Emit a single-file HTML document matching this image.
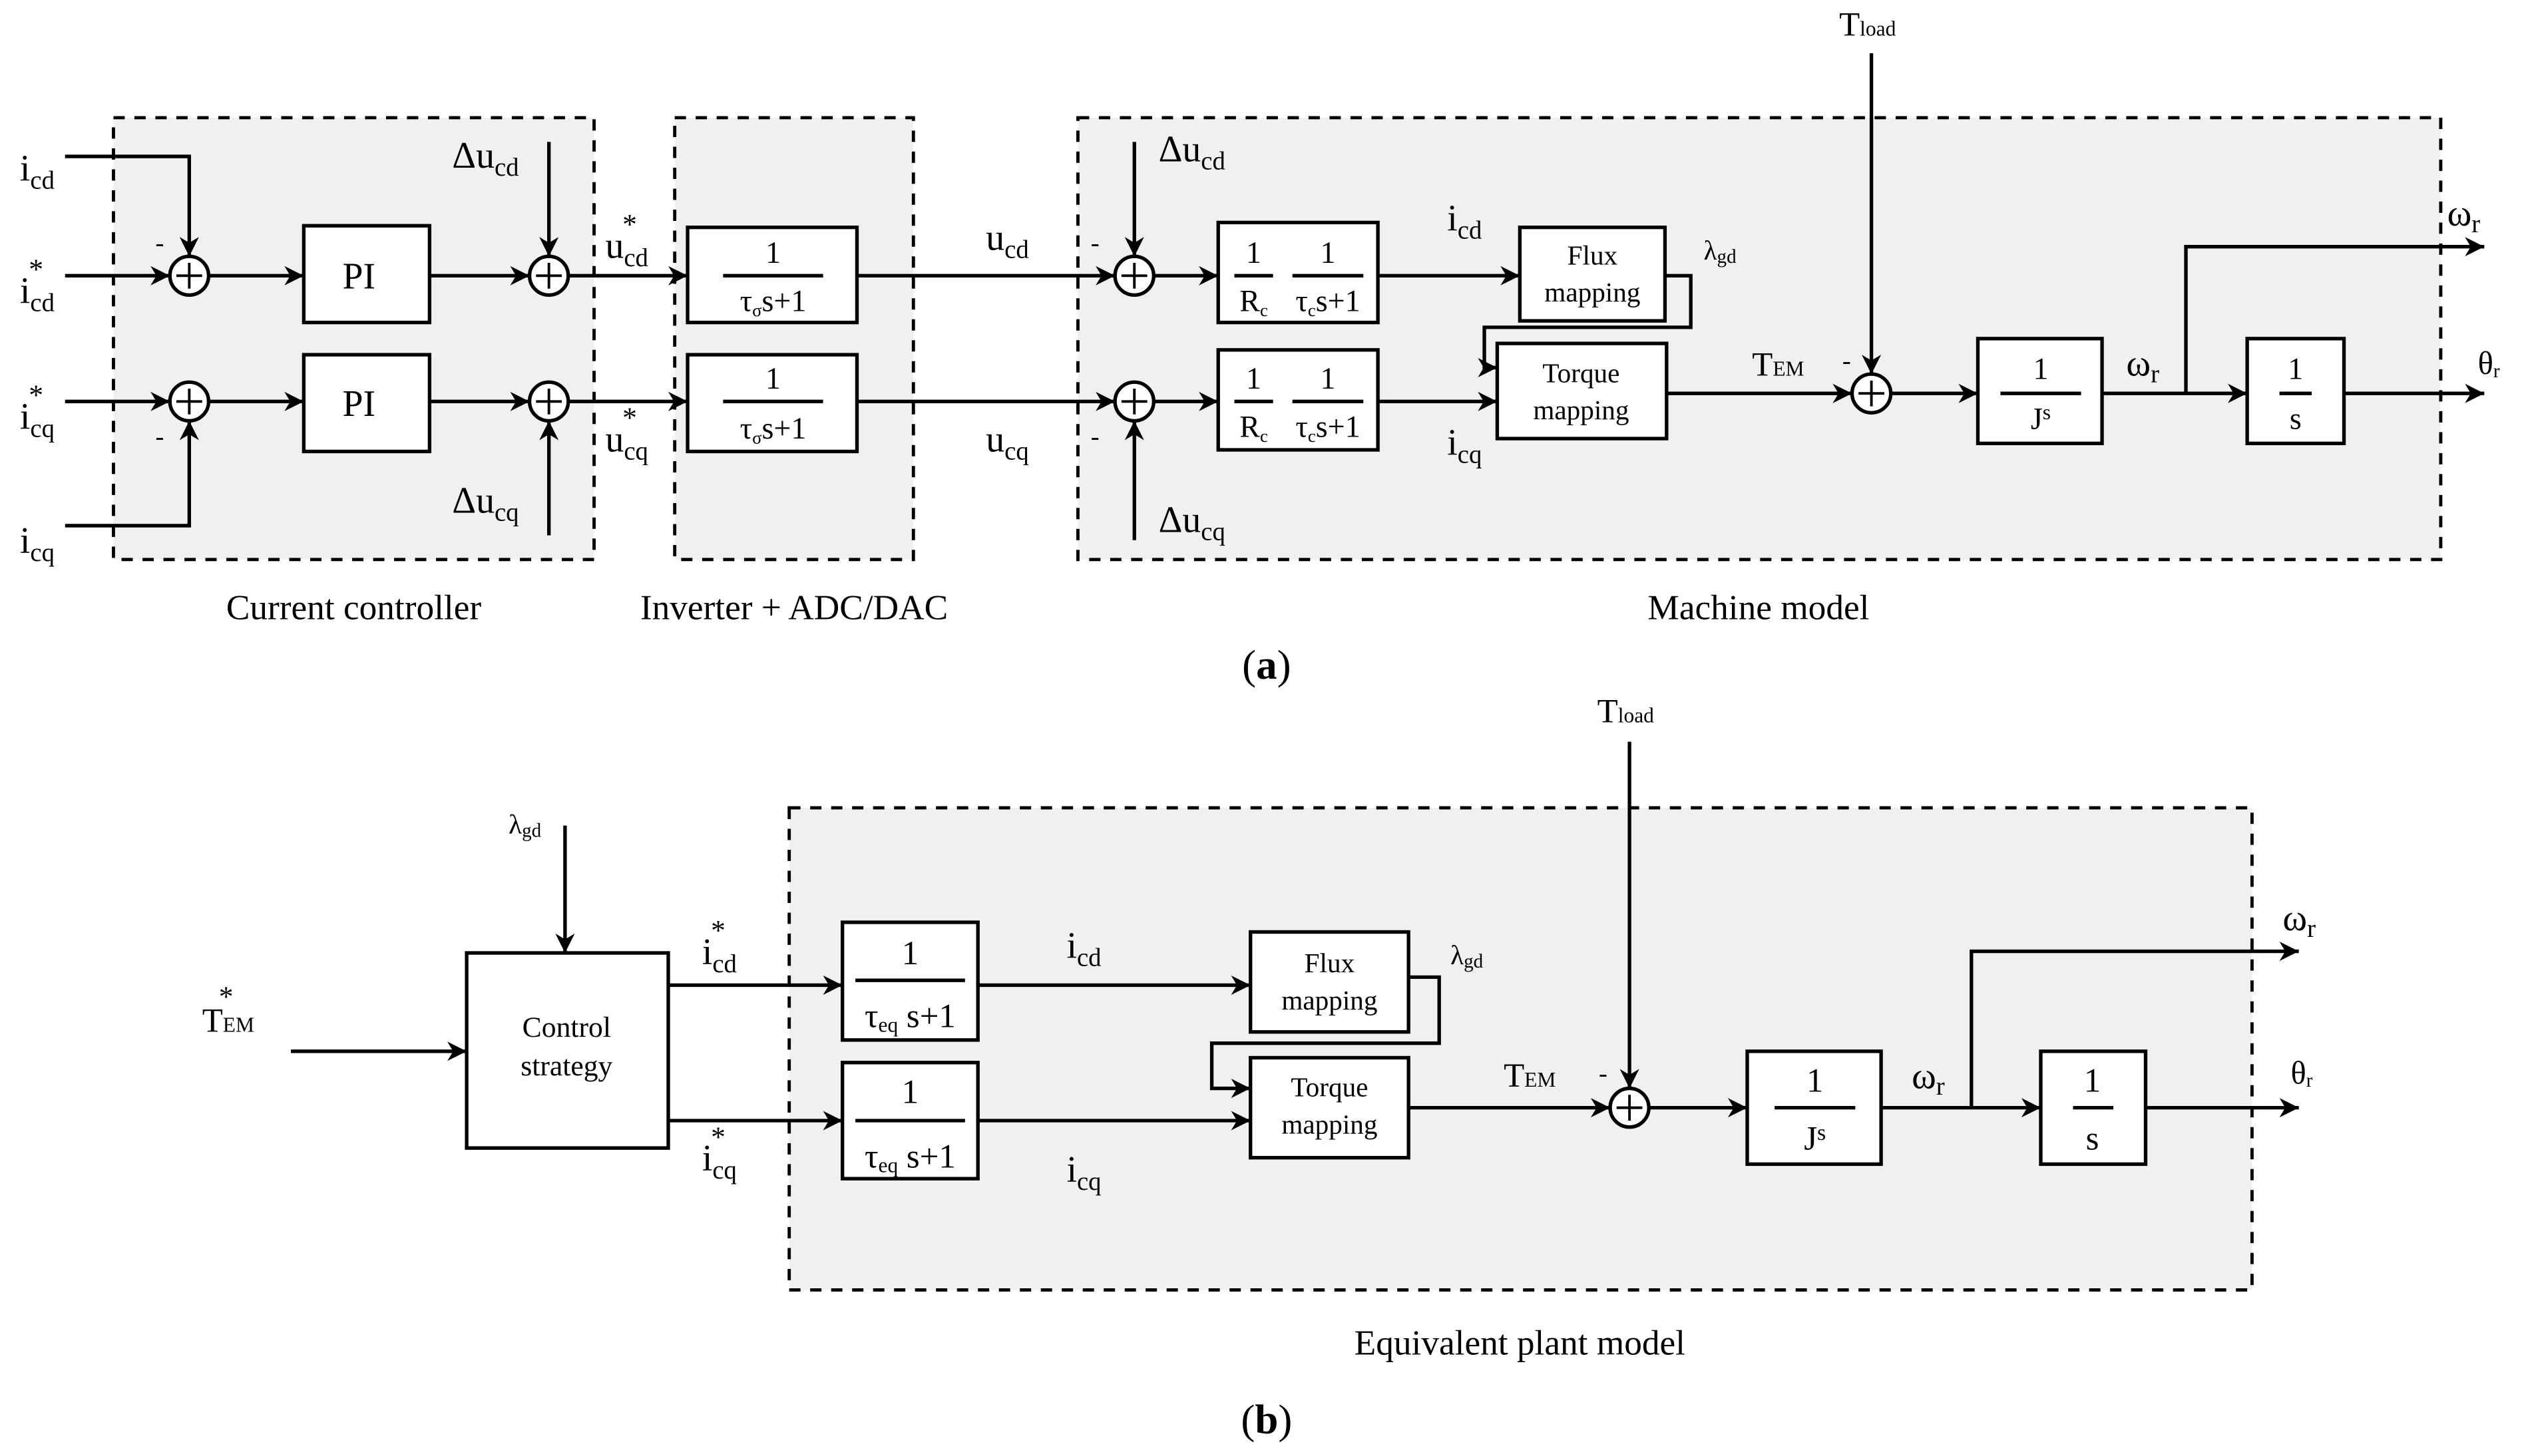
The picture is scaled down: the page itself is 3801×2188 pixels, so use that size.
<!DOCTYPE html>
<html><head><meta charset="utf-8"><style>
html,body{margin:0;padding:0;background:#fff}
svg{display:block}
svg, svg text, svg tspan{font-family:"Liberation Serif","DejaVu Serif",serif !important}
text{fill:#000}
</style></head><body>
<svg width="3801" height="2188" viewBox="0 0 1568 903" xmlns="http://www.w3.org/2000/svg" font-family="Liberation Serif, DejaVu Serif, serif">
<defs>
<marker id="A" viewBox="0 0 10 10" refX="10" refY="5" markerWidth="12" markerHeight="12" orient="auto" markerUnits="userSpaceOnUse">
<path d="M0,0 L10,5 L0,10 L3,5 z" fill="#000"/></marker>
</defs>
<g fill="#f0f0f0" stroke="#000" stroke-width="2" stroke-dasharray="7,6">
<rect x="70" y="73" width="298" height="274"/>
<rect x="418" y="73" width="148" height="274"/>
<rect x="668" y="73" width="845" height="274"/>
<rect x="489" y="501" width="907" height="299"/>
</g>
<g fill="none" stroke="#000" stroke-width="2.2">
<path d="M40,97 H117 V159" marker-end="url(#A)"/>
<path d="M40,326 H117 V261" marker-end="url(#A)"/>
<path d="M40,171 H105" marker-end="url(#A)"/>
<path d="M40,249 H105" marker-end="url(#A)"/>
<path d="M129,171 H188" marker-end="url(#A)"/>
<path d="M129,249 H188" marker-end="url(#A)"/>
<path d="M266,171 H328" marker-end="url(#A)"/>
<path d="M266,249 H328" marker-end="url(#A)"/>
<path d="M340,88 V159" marker-end="url(#A)"/>
<path d="M340,332 V261" marker-end="url(#A)"/>
<path d="M352,171 H426" marker-end="url(#A)"/>
<path d="M352,249 H426" marker-end="url(#A)"/>
<path d="M531,171 H691" marker-end="url(#A)"/>
<path d="M531,249 H691" marker-end="url(#A)"/>
<path d="M703,88 V159" marker-end="url(#A)"/>
<path d="M703,335 V261" marker-end="url(#A)"/>
<path d="M715,171 H755" marker-end="url(#A)"/>
<path d="M715,249 H755" marker-end="url(#A)"/>
<path d="M854,171 H942" marker-end="url(#A)"/>
<path d="M854,249 H928" marker-end="url(#A)"/>
<path d="M1032,171 H1048 V203 H920 V228 H928" marker-end="url(#A)"/>
<path d="M1033,244 H1148" marker-end="url(#A)"/>
<path d="M1160,33 V232" marker-end="url(#A)"/>
<path d="M1172,244 H1226" marker-end="url(#A)"/>
<path d="M1303,244 H1393" marker-end="url(#A)"/>
<path d="M1355,244 V153 H1540" marker-end="url(#A)"/>
<path d="M1453,244 H1540" marker-end="url(#A)"/>
<circle cx="117" cy="171" r="12" fill="#fff"/><circle cx="117" cy="249" r="12" fill="#fff"/>
<circle cx="340" cy="171" r="12" fill="#fff"/><circle cx="340" cy="249" r="12" fill="#fff"/>
<circle cx="703" cy="171" r="12" fill="#fff"/><circle cx="703" cy="249" r="12" fill="#fff"/>
<circle cx="1160" cy="244" r="12" fill="#fff"/>
<path stroke-width="1.6" d="M109,171h16M117,163v16M109,249h16M117,241v16M332,171h16M340,163v16M332,249h16M340,241v16M695,171h16M703,163v16M695,249h16M703,241v16M1152,244h16M1160,236v16"/>
<g fill="#fff">
<rect x="188" y="140" width="78" height="60"/><rect x="188" y="220" width="78" height="60"/>
<rect x="426" y="141" width="105" height="59"/><rect x="426" y="220" width="105" height="60"/>
<rect x="755" y="138" width="99" height="62"/><rect x="755" y="217" width="99" height="62"/>
<rect x="942" y="141" width="90" height="58"/><rect x="928" y="213" width="105" height="59"/>
<rect x="1226" y="210" width="77" height="65"/><rect x="1393" y="210" width="60" height="65"/>
</g>
<path d="M448,171h62M448,249h62M765,171h24M801,171h44M765,249h24M801,249h44M1240,244h50M1413,244h20"/>
<path d="M180,652 H289" marker-end="url(#A)"/>
<path d="M350,512 V591" marker-end="url(#A)"/>
<path d="M414,611 H522" marker-end="url(#A)"/>
<path d="M414,695 H522" marker-end="url(#A)"/>
<path d="M606,611 H775" marker-end="url(#A)"/>
<path d="M606,695 H775" marker-end="url(#A)"/>
<path d="M873,606 H892 V647 H751 V675 H775" marker-end="url(#A)"/>
<path d="M873,687 H998" marker-end="url(#A)"/>
<path d="M1010,460 V675" marker-end="url(#A)"/>
<path d="M1022,687 H1083" marker-end="url(#A)"/>
<path d="M1166,687 H1265" marker-end="url(#A)"/>
<path d="M1222,687 V590 H1425" marker-end="url(#A)"/>
<path d="M1330,687 H1425" marker-end="url(#A)"/>
<circle cx="1010" cy="687" r="12" fill="#fff"/>
<path stroke-width="1.6" d="M1002,687h16M1010,679v16"/>
<g fill="#fff">
<rect x="289" y="591" width="125" height="121"/>
<rect x="522" y="572" width="84" height="73"/><rect x="522" y="659" width="84" height="72"/>
<rect x="775" y="578" width="98" height="62"/><rect x="775" y="656" width="98" height="62"/>
<rect x="1083" y="652" width="83" height="70"/><rect x="1265" y="652" width="65" height="70"/>
</g>
<path d="M530,608h68M530,695h68M1100,687h50M1285,687h25"/>
</g>
<g font-size="23">
<text x="12" y="112">i<tspan font-size="16" dy="5">cd</tspan></text>
<text x="12" y="188">i<tspan font-size="16" dy="5">cd</tspan><tspan dx="-16" dy="-20" font-size="18">*</tspan></text>
<text x="12" y="266">i<tspan font-size="16" dy="5">cq</tspan><tspan dx="-16" dy="-20" font-size="18">*</tspan></text>
<text x="12" y="343">i<tspan font-size="16" dy="5">cq</tspan></text>
<text x="96" y="156" font-size="16">-</text><text x="96" y="276" font-size="16">-</text>
<text x="212" y="179">PI</text><text x="212" y="258">PI</text>
<text x="280" y="104">Δu<tspan font-size="16" dy="5">cd</tspan></text>
<text x="280" y="318">Δu<tspan font-size="16" dy="5">cq</tspan></text>
<text x="375" y="160">u<tspan font-size="16" dy="5">cd</tspan><tspan dx="-16" dy="-20" font-size="18">*</tspan></text>
<text x="375" y="280">u<tspan font-size="16" dy="5">cq</tspan><tspan dx="-16" dy="-20" font-size="18">*</tspan></text>
<g font-size="19" text-anchor="middle">
<text x="479" y="163">1</text><text x="479" y="193">τ<tspan font-size="11" dy="3">σ</tspan><tspan dy="-3">s+1</tspan></text>
<text x="479" y="241">1</text><text x="479" y="272">τ<tspan font-size="11" dy="3">σ</tspan><tspan dy="-3">s+1</tspan></text>
<text x="777" y="163">1</text><text x="777" y="193">R<tspan font-size="11" dy="3">c</tspan></text>
<text x="823" y="163">1</text><text x="823" y="193">τ<tspan font-size="11" dy="3">c</tspan><tspan dy="-3">s+1</tspan></text>
<text x="777" y="241">1</text><text x="777" y="271">R<tspan font-size="11" dy="3">c</tspan></text>
<text x="823" y="241">1</text><text x="823" y="271">τ<tspan font-size="11" dy="3">c</tspan><tspan dy="-3">s+1</tspan></text>
<text x="1265" y="235">1</text><text x="1265" y="266">J<tspan font-size="13" dy="-6">s</tspan></text>
<text x="1423" y="235">1</text><text x="1423" y="266">s</text>
<text x="987" y="164" font-size="17">Flux</text><text x="987" y="187" font-size="17">mapping</text>
<text x="980" y="237" font-size="17">Torque</text><text x="980" y="260" font-size="17">mapping</text>
</g>
<text x="611" y="155">u<tspan font-size="16" dy="5">cd</tspan></text>
<text x="611" y="280">u<tspan font-size="16" dy="5">cq</tspan></text>
<text x="676" y="156" font-size="16">-</text><text x="676" y="276" font-size="16">-</text>
<text x="718" y="100">Δu<tspan font-size="16" dy="5">cd</tspan></text>
<text x="718" y="330">Δu<tspan font-size="16" dy="5">cq</tspan></text>
<text x="897" y="143">i<tspan font-size="16" dy="5">cd</tspan></text>
<text x="897" y="282">i<tspan font-size="16" dy="5">cq</tspan></text>
<text x="1056" y="161" font-size="17">λ<tspan font-size="12" dy="2">gd</tspan></text>
<text x="1086" y="233" font-size="21">T<tspan font-size="13">EM</tspan></text>
<text x="1140" y="22" font-size="21">T<tspan font-size="13">load</tspan></text>
<text x="1142" y="229" font-size="16">-</text>
<text x="1318" y="233">ω<tspan font-size="16" dy="4">r</tspan></text>
<text x="1517" y="140">ω<tspan font-size="16" dy="4">r</tspan></text>
<text x="1536" y="232" font-size="20">θ<tspan font-size="12" dy="2">r</tspan></text>
<g text-anchor="middle" font-size="22">
<text x="219" y="384">Current controller</text>
<text x="492" y="384">Inverter + ADC/DAC</text>
<text x="1090" y="384">Machine model</text>
<text x="785" y="421" font-size="26">(<tspan font-weight="bold">a</tspan>)</text>
<text x="942" y="840">Equivalent plant model</text>
<text x="785" y="889" font-size="26">(<tspan font-weight="bold">b</tspan>)</text>
</g>
<text x="125" y="640" font-size="21">T<tspan font-size="13">EM</tspan><tspan dx="-22" dy="-16" font-size="18">*</tspan></text>
<text x="315" y="517" font-size="17">λ<tspan font-size="12" dy="2">gd</tspan></text>
<g text-anchor="middle" font-size="18">
<text x="351" y="643">Control</text><text x="351" y="667">strategy</text>
<text x="824" y="603" font-size="17">Flux</text><text x="824" y="626" font-size="17">mapping</text>
<text x="824" y="680" font-size="17">Torque</text><text x="824" y="703" font-size="17">mapping</text>
</g>
<g text-anchor="middle" font-size="21">
<text x="564" y="598">1</text><text x="564" y="637">τ<tspan font-size="13" dy="3">eq</tspan><tspan dy="-3"> s+1</tspan></text>
<text x="564" y="684">1</text><text x="564" y="724">τ<tspan font-size="13" dy="3">eq</tspan><tspan dy="-3"> s+1</tspan></text>
<text x="1125" y="677">1</text><text x="1125" y="713">J<tspan font-size="14" dy="-6">s</tspan></text>
<text x="1297" y="677">1</text><text x="1297" y="713">s</text>
</g>
<text x="435" y="598">i<tspan font-size="16" dy="5">cd</tspan><tspan dx="-16" dy="-20" font-size="18">*</tspan></text>
<text x="435" y="726">i<tspan font-size="16" dy="5">cq</tspan><tspan dx="-16" dy="-20" font-size="18">*</tspan></text>
<text x="661" y="594">i<tspan font-size="16" dy="5">cd</tspan></text>
<text x="661" y="733">i<tspan font-size="16" dy="5">cq</tspan></text>
<text x="899" y="598" font-size="17">λ<tspan font-size="12" dy="2">gd</tspan></text>
<text x="932" y="674" font-size="21">T<tspan font-size="13">EM</tspan></text>
<text x="990" y="448" font-size="21">T<tspan font-size="13">load</tspan></text>
<text x="991" y="671" font-size="16">-</text>
<text x="1185" y="675">ω<tspan font-size="16" dy="4">r</tspan></text>
<text x="1415" y="577">ω<tspan font-size="16" dy="4">r</tspan></text>
<text x="1420" y="672" font-size="20">θ<tspan font-size="12" dy="2">r</tspan></text>
</g>
</svg>
</body></html>
